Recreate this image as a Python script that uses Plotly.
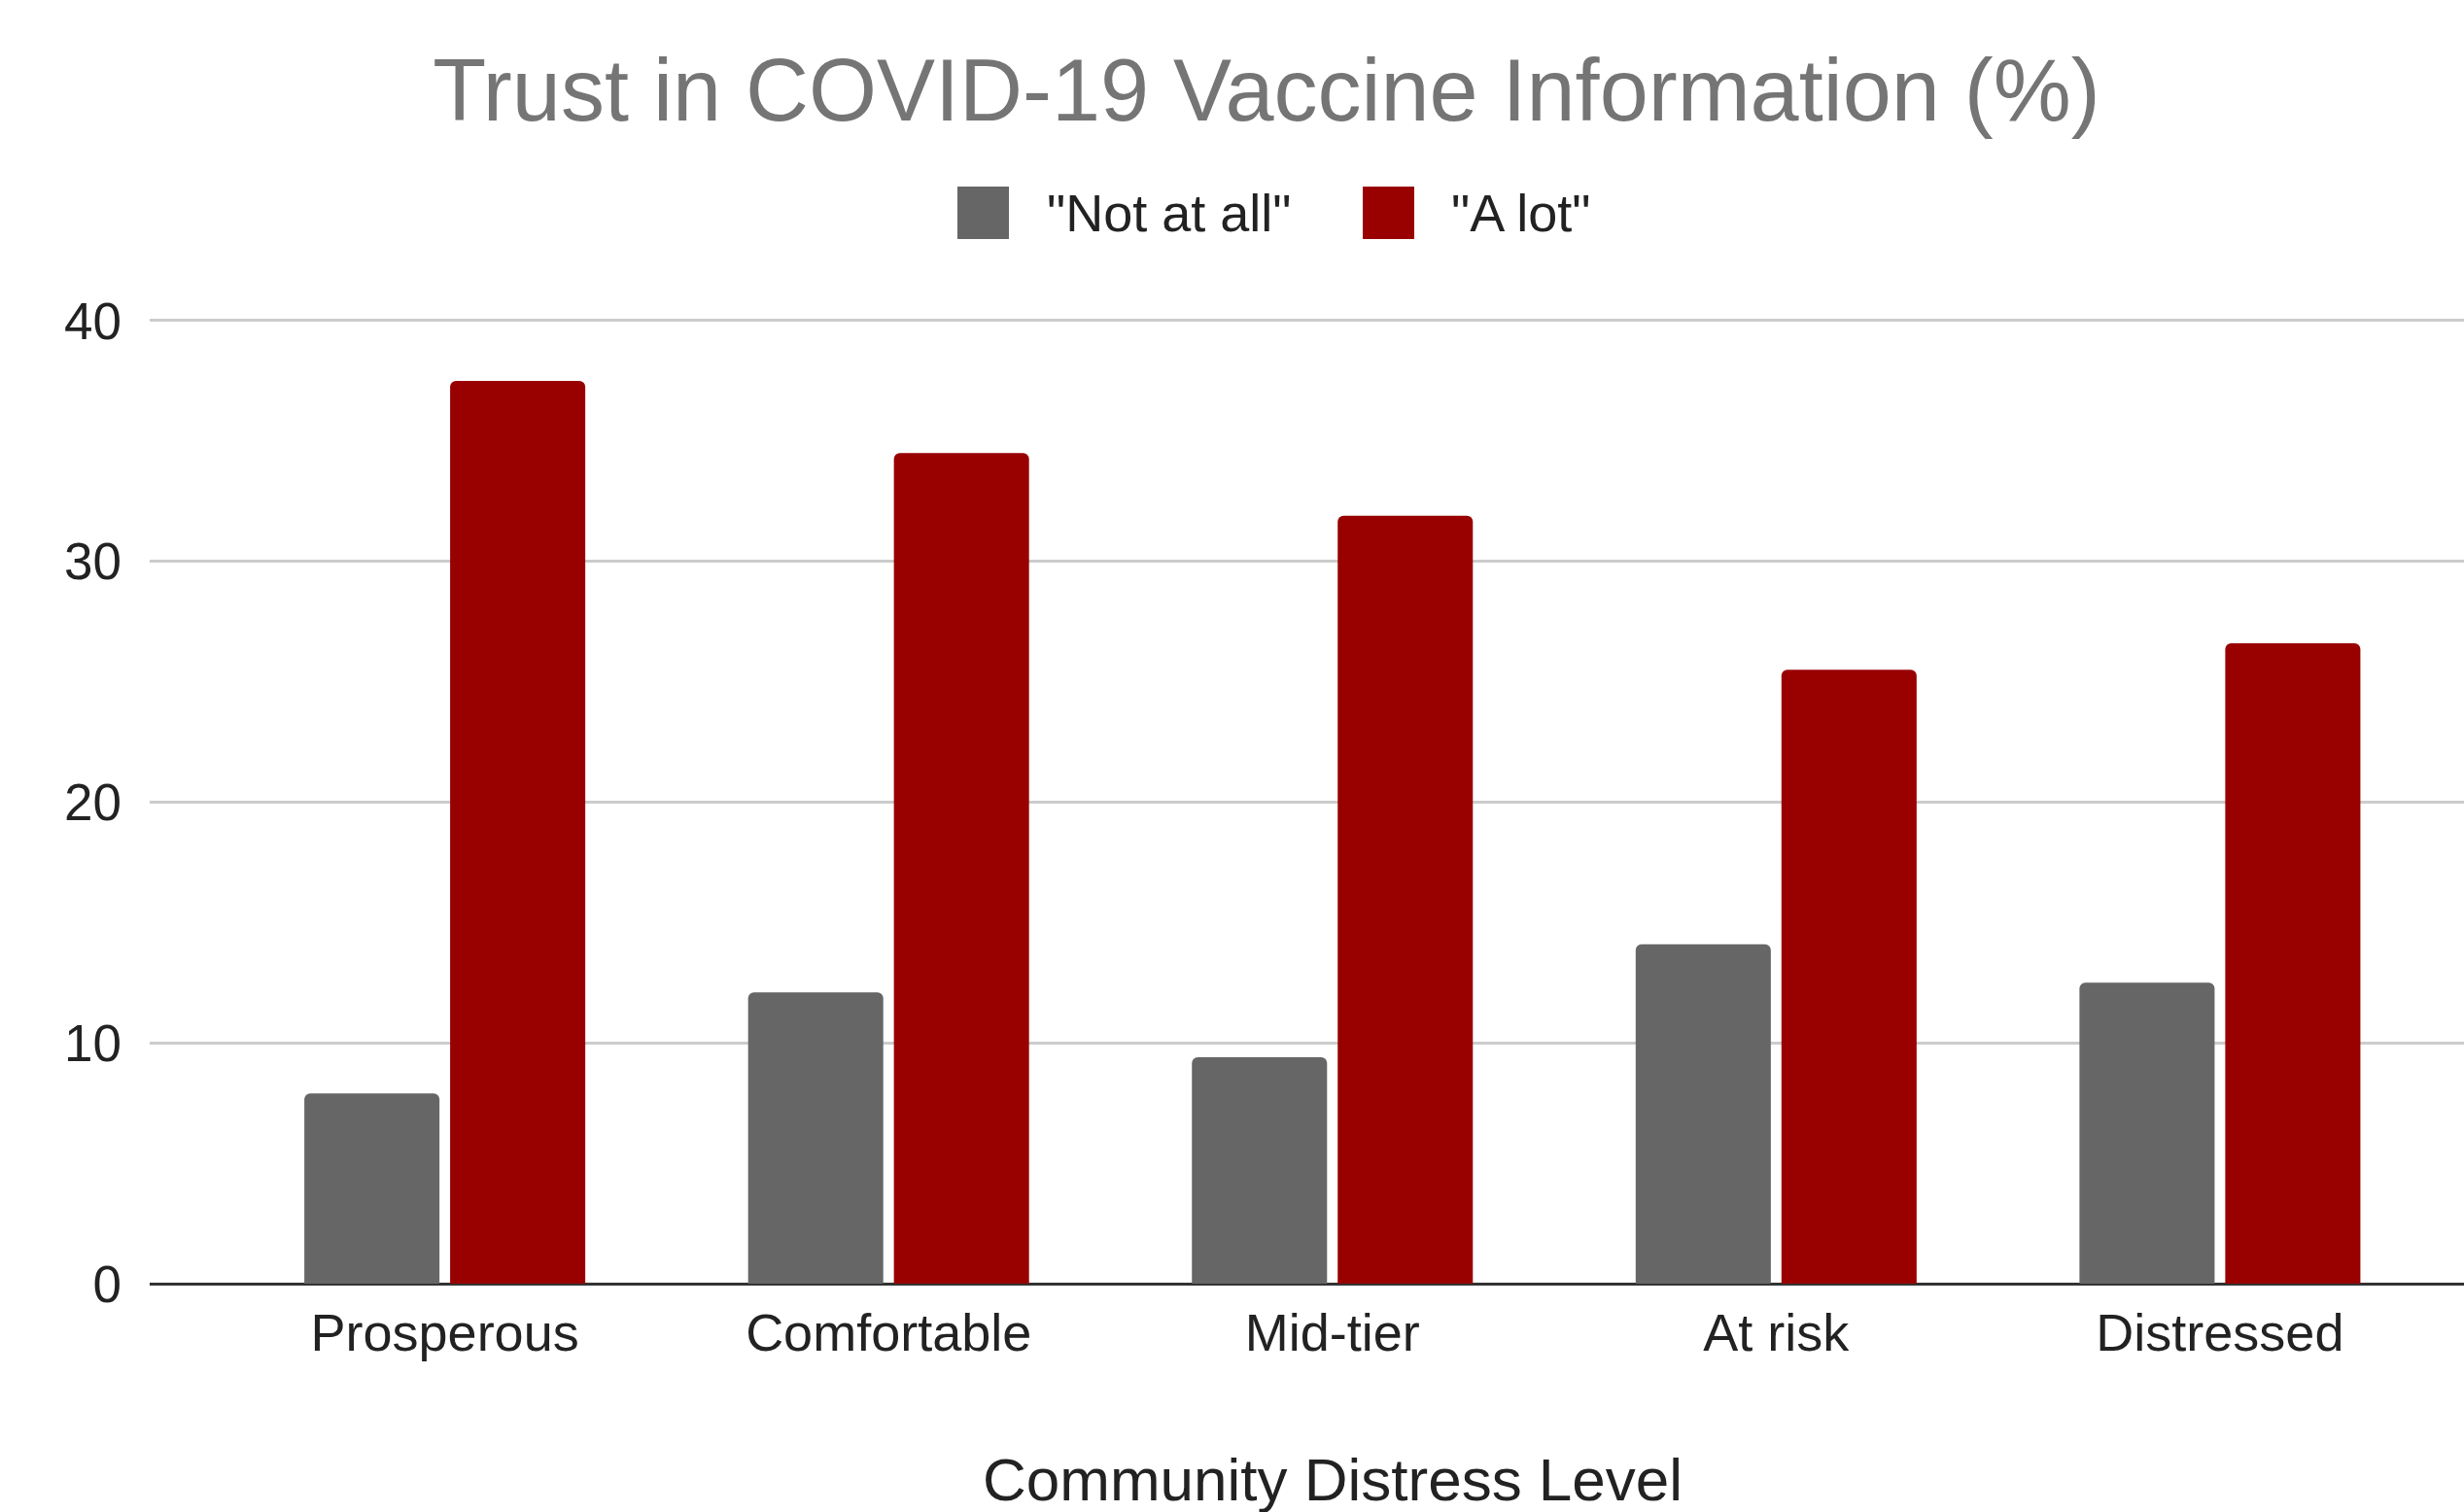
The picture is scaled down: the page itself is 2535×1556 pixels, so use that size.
import plotly.graph_objects as go

categories = ["Prosperous", "Comfortable", "Mid-tier", "At risk", "Distressed"]
not_at_all = [7.9, 12.1, 9.4, 14.1, 12.5]
a_lot = [37.5, 34.5, 31.9, 25.5, 26.6]
series_names = ['"Not at all"', '"A lot"']
series_colors = ["#666666", "#990000"]
y_ticks = [0, 10, 20, 30, 40]

W, H = 2535, 1556
Y_MAX = 40.2
L, R, B = 154, 0, 235
T = int(round(330 - (Y_MAX - 40) * (H - B - 330) / 40))
PW, PH = W - L - R, H - T - B

def px_x(px):
    return (px - L) / PW

def px_y(py):
    return (H - B - py) / PH

FONT = "Liberation Sans, Arial, sans-serif"

fig = go.Figure()
for name, vals, col in zip(series_names, [not_at_all, a_lot], series_colors):
    fig.add_trace(go.Bar(
        x=categories, y=vals, name=name,
        marker=dict(color=col, line=dict(width=0), cornerradius=6),
        showlegend=False, hoverinfo="x+y",
    ))

# custom legend (large swatches like the reference)
legend_items = [(985, 1075), (1402, 1491)]
shapes = []
annotations = []
for (sx, tx), name, col in zip(legend_items, series_names, series_colors):
    shapes.append(dict(
        type="rect", xref="paper", yref="paper",
        x0=px_x(sx), x1=px_x(sx + 53), y0=px_y(246), y1=px_y(192),
        fillcolor=col, line=dict(width=0), layer="above",
    ))
    annotations.append(dict(
        text=name, xref="paper", yref="paper", x=px_x(tx), y=px_y(219),
        xanchor="left", yanchor="middle", showarrow=False,
        font=dict(family=FONT, size=54, color="#222222"),
    ))

annotations.append(dict(
    text="Community Distress Level", xref="paper", yref="paper",
    x=px_x(1371), y=px_y(1522), xanchor="center", yanchor="middle",
    showarrow=False, font=dict(family=FONT, size=62, color="#222222"),
))

fig.update_layout(
    width=W, height=H,
    margin=dict(l=L, r=R, t=T, b=B, pad=0),
    paper_bgcolor="white", plot_bgcolor="white",
    barmode="group", bargap=0.343, bargroupgap=0.073,
    title=dict(
        text="Trust in COVID-19 Vaccine Information (%)",
        x=1303 / W, xanchor="center", xref="container",
        y=1 - 92 / H, yanchor="middle", yref="container",
        font=dict(family=FONT, size=90, color="#757575"),
    ),
    shapes=shapes, annotations=annotations,
    font=dict(family=FONT, color="#222222"),
)

fig.update_xaxes(
    type="category", range=[-0.665, 4.55],
    showgrid=False, showline=False, zeroline=False,
    ticks="", tickfont=dict(family=FONT, size=54, color="#222222"),
    ticklabelstandoff=14,
)
fig.update_yaxes(
    range=[0, Y_MAX], tickvals=y_ticks,
    showgrid=True, gridcolor="#cccccc", gridwidth=3,
    zeroline=True, zerolinecolor="#333333", zerolinewidth=3,
    showline=False, ticks="",
    tickfont=dict(family=FONT, size=53, color="#222222"),
    ticklabelstandoff=28,
)

fig.write_html("out.html")
